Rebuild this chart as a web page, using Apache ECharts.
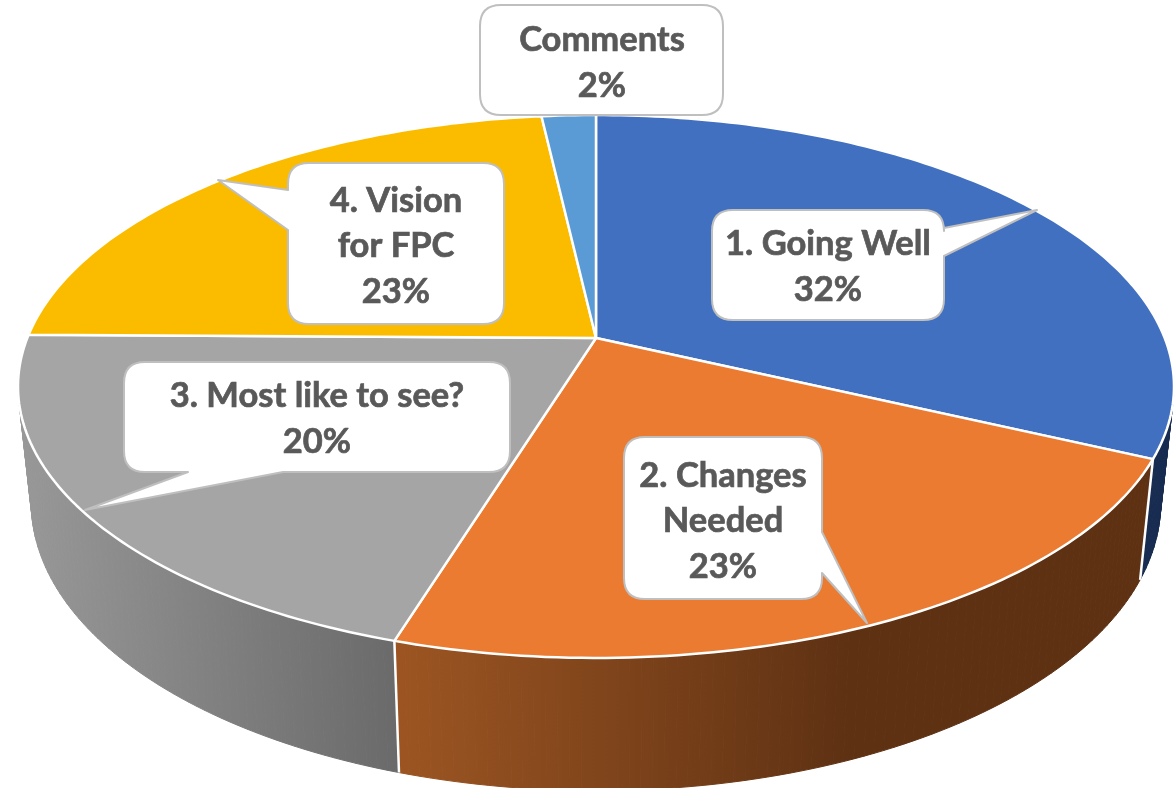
<!DOCTYPE html>
<html>
<head>
<meta charset="utf-8">
<title>Feedback share</title>
<style>
html, body { margin: 0; padding: 0; background: #fff; }
#chart { width: 1176px; height: 788px; }
</style>
<script src="https://cdn.jsdelivr.net/npm/echarts@6/dist/echarts.min.js"></script>
</head>
<body>
<div id="chart"></div>
<script>
// data (clockwise from 12 o'clock)
var categories = ['1. Going Well', '2. Changes\nNeeded', '3. Most like to see?', '4. Vision\nfor FPC', 'Comments'];
var shares = [32, 22.75, 20.45, 23, 1.8];

// colours of the top faces and side walls
var topColors = ['#4170c0', '#eb7b30', '#a5a5a5', '#fbbc00', '#5b9bd5'];
var sideColors = [
    '#172c50',
    new echarts.graphic.LinearGradient(399, 0, 850, 0, [
        { offset: 0, color: '#9c5522' }, { offset: 1, color: '#5e3113' }
    ], true),
    new echarts.graphic.LinearGradient(20, 0, 399, 0, [
        { offset: 0, color: '#989898' }, { offset: 1, color: '#6a6a6a' }
    ], true),
    '#7f6000',
    '#2f5f8f'
];

// callout boxes: box [left, top, right, bottom], tail [base1, tip, base2], text centre
var callouts = [
    { box: [712, 210, 944, 320], tail: [[944, 228], [1037, 210], [944, 256]], side: 'right', cx: 828, cy: 267 },
    { box: [624, 437, 822, 599], tail: [[822, 532], [867, 623], [822, 573]], side: 'right', cx: 723, cy: 521 },
    { box: [124, 362, 510, 472], tail: [[283, 472], [85, 510], [188, 472]], side: 'bottom', cx: 317, cy: 419 },
    { box: [288, 163, 504, 324], tail: [[288, 230], [218, 180], [288, 190]], side: 'left', cx: 396, cy: 246 },
    { box: [480, 5, 723, 115], tail: null, side: null, cx: 602, cy: 63 }
];

// perspective of the disc
var pieX = 596, pieY = 338, pieF = 568.7, pieG = 262.8, pieP = 0.1786;
// bottom disc is the top disc moved down and squeezed a bit
var baseScaleX = 0.977, baseScaleY = 1.06, baseShift = 113.5;
var STEP = Math.PI / 180;

var total = shares.reduce(function (a, b) { return a + b; }, 0);

function angleOf(index) {
    var sum = 0;
    for (var i = 0; i < index; i++) {
        sum += shares[i];
    }
    return sum / total * Math.PI * 2;
}

function projectTop(theta) {
    var u = Math.sin(theta), v = Math.cos(theta);
    var d = 1 + pieP * v;
    return [pieX + pieF * u / d, pieY - pieG * v / d];
}

function projectBase(theta) {
    var p = projectTop(theta);
    return [pieX + baseScaleX * (p[0] - pieX), pieY + baseShift + baseScaleY * (p[1] - pieY)];
}

function arcAngles(a0, a1) {
    var list = [];
    for (var a = a0; a < a1; a += STEP) {
        list.push(a);
    }
    list.push(a1);
    return list;
}

function renderSide(params, api) {
    var i = params.dataIndex;
    var a0 = angleOf(i);
    var a1 = a0 + api.value(0) / total * Math.PI * 2;
    var angles = arcAngles(a0, a1);
    var fill = sideColors[i];
    var children = [];
    for (var k = 0; k < angles.length - 1; k++) {
        children.push({
            type: 'polygon',
            shape: { points: [projectTop(angles[k]), projectTop(angles[k + 1]), projectBase(angles[k + 1]), projectBase(angles[k])] },
            style: { fill: fill, stroke: fill, lineWidth: 1 }
        });
    }
    // white seam at the start of the slice
    var t = projectTop(a0), b = projectBase(a0);
    children.push({
        type: 'line',
        shape: { x1: t[0], y1: t[1], x2: b[0], y2: b[1] },
        style: { stroke: '#fff', lineWidth: 2.5 },
        z2: 5
    });
    return { type: 'group', children: children };
}

function renderTop(params, api) {
    var i = params.dataIndex;
    var a0 = angleOf(i);
    var a1 = a0 + api.value(0) / total * Math.PI * 2;
    var points = [[pieX, pieY]];
    arcAngles(a0, a1).forEach(function (a) {
        points.push(projectTop(a));
    });
    return {
        type: 'polygon',
        shape: { points: points },
        style: { fill: topColors[i], stroke: '#fff', lineWidth: 2.5, lineJoin: 'round' }
    };
}

function calloutPath(c) {
    var l = c.box[0], t = c.box[1], r = c.box[2], b = c.box[3], q = 21;
    var tail = c.tail;
    function tailStr() {
        return tail.map(function (p) { return 'L' + p[0] + ' ' + p[1]; }).join(' ');
    }
    var d = 'M' + (l + q) + ' ' + t + ' L' + (r - q) + ' ' + t + ' Q' + r + ' ' + t + ' ' + r + ' ' + (t + q);
    if (c.side === 'right') { d += ' ' + tailStr(); }
    d += ' L' + r + ' ' + (b - q) + ' Q' + r + ' ' + b + ' ' + (r - q) + ' ' + b;
    if (c.side === 'bottom') { d += ' ' + tailStr(); }
    d += ' L' + (l + q) + ' ' + b + ' Q' + l + ' ' + b + ' ' + l + ' ' + (b - q);
    if (c.side === 'left') { d += ' ' + tailStr(); }
    d += ' L' + l + ' ' + (t + q) + ' Q' + l + ' ' + t + ' ' + (l + q) + ' ' + t + ' Z';
    return d;
}

function renderCallout(params, api) {
    var i = params.dataIndex;
    var c = callouts[i];
    return {
        type: 'group',
        children: [{
            type: 'path',
            shape: { pathData: calloutPath(c) },
            style: { fill: '#fff', stroke: '#bfbfbf', lineWidth: 2, lineJoin: 'round' }
        }, {
            type: 'text',
            style: {
                text: categories[i] + '\n' + Math.round(api.value(0)) + '%',
                x: c.cx,
                y: c.cy,
                align: 'center',
                verticalAlign: 'middle',
                fill: '#595959',
                stroke: '#595959',
                lineWidth: 0.7,
                fontFamily: 'Lato',
                fontWeight: 'bold',
                fontSize: 34.5,
                lineHeight: 45.5
            }
        }]
    };
}

var myChart = echarts.init(document.getElementById('chart'), null, { renderer: 'canvas' });
myChart.setOption({
    backgroundColor: '#fff',
    animation: false,
    tooltip: { show: false },
    series: [
        { type: 'custom', coordinateSystem: 'none', silent: true, z: 1, data: shares, renderItem: renderSide },
        { type: 'custom', coordinateSystem: 'none', silent: true, z: 2, data: shares, renderItem: renderTop },
        { type: 'custom', coordinateSystem: 'none', silent: true, z: 3, data: shares, renderItem: renderCallout }
    ]
});
</script>
</body>
</html>
